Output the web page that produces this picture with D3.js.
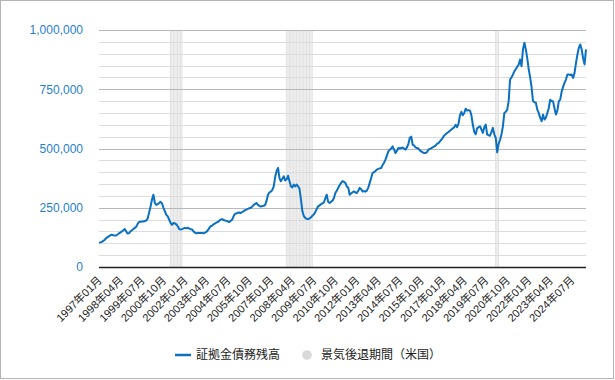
<!DOCTYPE html>
<html><head><meta charset="utf-8">
<script src="https://cdn.jsdelivr.net/npm/d3@7"></script>
<style>
body{margin:0;background:#fff;}
svg text{font-family:Arial,"Liberation Sans","Noto Sans CJK JP",sans-serif;}
</style></head>
<body><svg id="c" width="615" height="380"></svg>
<script>
// ---- data ----
const startYear = 1997, startMonth = 1;
const seriesName = "証拠金債務残高";
const recessionName = "景気後退期間（米国）";
// monthly values, 1997/01 - 2025/05
const marginDebt = [
  102000,104000,106000,110000,115000,122000,126000,130000,134000,136000,134000,133000, // 1997
  133000,137000,142000,146000,150000,155000,160000,150000,141000,143000,150000,155000, // 1998
  160000,165000,170000,182000,190000,191000,192000,192000,194000,196000,205000,230000, // 1999
  255000,285000,305000,270000,262000,265000,270000,275000,268000,250000,235000,220000, // 2000
  214000,200000,185000,178000,186000,184000,180000,172000,160000,158000,160000,163000, // 2001
  165000,163000,166000,162000,160000,158000,150000,145000,142000,143000,143000,144000, // 2002
  143000,142000,145000,148000,155000,165000,172000,175000,180000,184000,187000,190000, // 2003
  195000,200000,202000,198000,196000,195000,192000,190000,195000,200000,215000,225000, // 2004
  226000,229000,230000,228000,232000,236000,240000,242000,245000,248000,250000,255000, // 2005
  262000,266000,270000,262000,258000,255000,257000,258000,262000,280000,305000,315000, // 2006
  318000,325000,340000,380000,405000,418000,375000,362000,372000,383000,365000,370000, // 2007
  385000,362000,340000,336000,348000,340000,348000,340000,330000,284000,235000,215000, // 2008
  207000,203000,202000,205000,210000,216000,222000,232000,245000,256000,260000,265000, // 2009
  268000,272000,290000,305000,275000,270000,275000,280000,290000,312000,322000,334000, // 2010
  345000,355000,362000,360000,355000,340000,335000,305000,310000,315000,319000,315000, // 2011
  312000,322000,334000,328000,319000,320000,318000,322000,335000,355000,375000,397000, // 2012
  400000,405000,411000,414000,416000,418000,430000,440000,453000,470000,488000,495000, // 2013
  500000,509000,495000,481000,490000,502000,500000,502000,504000,500000,495000,505000, // 2014
  520000,545000,550000,516000,512000,505000,502000,500000,492000,488000,484000,481000, // 2015
  481000,485000,495000,498000,502000,505000,509000,512000,520000,523000,530000,537000, // 2016
  545000,555000,560000,565000,570000,575000,580000,585000,590000,600000,590000,605000, // 2017
  640000,655000,640000,650000,668000,660000,662000,660000,640000,600000,570000,560000, // 2018
  585000,590000,594000,580000,566000,590000,601000,559000,556000,554000,570000,587000, // 2019
  560000,545000,484000,520000,537000,560000,594000,650000,655000,664000,700000,791000, // 2020
  800000,812000,826000,835000,845000,854000,875000,847000,918000,946000,918000,880000, // 2021
  835000,800000,760000,700000,695000,693000,664000,650000,630000,615000,643000,622000, // 2022
  630000,650000,670000,706000,700000,699000,670000,643000,660000,699000,706000,740000, // 2023
  760000,777000,791000,812000,812000,810000,812000,798000,819000,860000,896000,925000, // 2024
  939000,918000,880000,855000,918000                                                   // 2025
];
// US recessions (first month, last month)
const recessionStart = ["2001-03","2007-12","2020-02"];
const recessionEnd   = ["2001-11","2009-06","2020-04"];
const xTickLabels = ["1997年01月","1998年04月","1999年07月","2000年10月","2002年01月","2003年04月","2004年07月","2005年10月","2007年01月","2008年04月","2009年07月","2010年10月","2012年01月","2013年04月","2014年07月","2015年10月","2017年01月","2018年04月","2019年07月","2020年10月","2022年01月","2023年04月","2024年07月"];
const yTicks = [0,250000,500000,750000,1000000];
const yMinorStep = 50000;

// ---- build categories ----
const categories = marginDebt.map((v,i)=>{
  const m = startMonth - 1 + i;
  const y = startYear + Math.floor(m/12);
  const mm = (m%12)+1;
  return y + "年" + String(mm).padStart(2,"0") + "月";
});
const key = s => { const [y,m] = s.split("-"); return y + "年" + m + "月"; };

// ---- layout ----
const W = 615, H = 380;
const plot = {left:99, right:586, top:30, bottom:267};
const svg = d3.select("#c");

svg.append("rect").attr("x",0.5).attr("y",0.5).attr("width",W-2).attr("height",H-2)
  .attr("fill","#fff").attr("stroke","#b4b4b4");

const x = d3.scalePoint().domain(categories).range([plot.left, plot.right]);
const step = x.step();
const y = d3.scaleLinear().domain([0,1000000]).range([plot.bottom, plot.top]);

// recession bands (one column per month)
const recMonths = [];
recessionStart.forEach((s,k)=>{
  const a = categories.indexOf(key(s)), b = categories.indexOf(key(recessionEnd[k]));
  for(let i=a;i<=b;i++) recMonths.push(categories[i]);
});
svg.append("g").selectAll("rect").data(recMonths).join("rect")
  .attr("x",d=>x(d)-step/2).attr("width",step*0.78)
  .attr("y",y(1000000)).attr("height",y(0)-y(1000000))
  .attr("fill","#d9d9d9").attr("opacity",0.75);

// gridlines
const minor = d3.range(yMinorStep, 1000000+1, yMinorStep).filter(v=>!yTicks.includes(v));
svg.append("g").selectAll("line").data(minor).join("line")
  .attr("x1",plot.left).attr("x2",plot.right)
  .attr("y1",d=>Math.round(y(d))+0.5).attr("y2",d=>Math.round(y(d))+0.5)
  .attr("stroke","#dcdcdc").attr("stroke-width",1);
svg.append("g").selectAll("line").data(yTicks.filter(v=>v>0)).join("line")
  .attr("x1",plot.left).attr("x2",plot.right)
  .attr("y1",d=>Math.round(y(d))+0.5).attr("y2",d=>Math.round(y(d))+0.5)
  .attr("stroke","#b8b8b8").attr("stroke-width",1);

// y axis labels
const yAxis = d3.axisLeft(y).tickValues(yTicks).tickSize(0).tickPadding(0)
  .tickFormat(d3.format(","));
const gy = svg.append("g").attr("transform",`translate(${plot.left-16},0)`).call(yAxis);
gy.select(".domain").remove();
gy.selectAll("text").attr("fill","#1f80d0").attr("font-size","12px")
  .attr("font-family",'Arial,"Liberation Sans",sans-serif');

// line
const line = d3.line().x((d,i)=>x(categories[i])).y(d=>y(d));
svg.append("path").datum(marginDebt).attr("d",line)
  .attr("fill","none").attr("stroke","#0a70c2").attr("stroke-width",2)
  .attr("stroke-linejoin","round");

// baseline
svg.append("line").attr("x1",plot.left).attr("x2",plot.right)
  .attr("y1",y(0)+0.5).attr("y2",y(0)+0.5).attr("stroke","#222").attr("stroke-width",1.3);

// x axis labels
const xAxis = d3.axisBottom(x).tickValues(xTickLabels).tickSize(0).tickPadding(0);
const gx = svg.append("g").attr("transform",`translate(0,${plot.bottom})`).call(xAxis);
gx.select(".domain").remove();
gx.selectAll("text")
  .attr("text-anchor","end").attr("dy",null).attr("y",null)
  .attr("transform","translate(3,14) rotate(-45)")
  .attr("fill","#222").attr("font-size","11px");

// legend
const lg = svg.append("g").attr("transform","translate(0,355)");
lg.append("line").attr("x1",175).attr("x2",191).attr("y1",0).attr("y2",0)
  .attr("stroke","#0a70c2").attr("stroke-width",2.5);
lg.append("text").attr("x",196).attr("y",0).attr("dy","0.36em")
  .attr("font-size","12px").attr("fill","#222").text(seriesName);
lg.append("circle").attr("cx",307).attr("cy",0).attr("r",4.8).attr("fill","#d9d9d9");
lg.append("text").attr("x",321).attr("y",0).attr("dy","0.36em")
  .attr("font-size","12px").attr("fill","#222").text(recessionName);
</script></body></html>
